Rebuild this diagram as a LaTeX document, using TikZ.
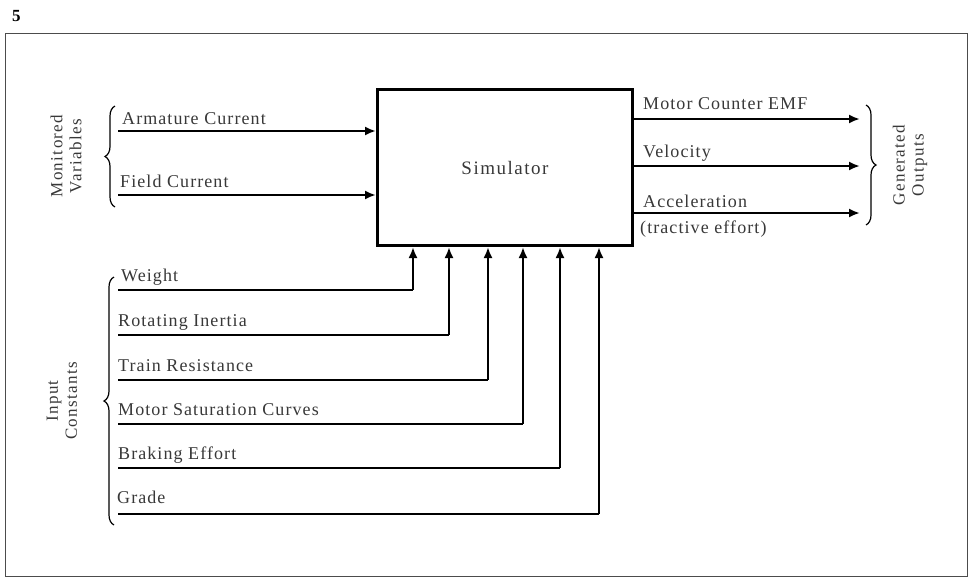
\documentclass[tikz,border=0pt]{standalone}
\usepackage{fontspec}
\setmainfont{Liberation Serif}
\usetikzlibrary{arrows.meta,decorations.pathreplacing}
\definecolor{txt}{HTML}{383838}
\newcommand{\lblfont}{\fontsize{18}{20}\selectfont\addfontfeature{LetterSpace=6}}
\tikzset{
  lbl/.style={anchor=base west, inner sep=0pt, text=txt, font=\lblfont},
  rlbl/.style={rotate=90, align=center, inner sep=0pt, text=txt, font=\fontsize{17}{19}\selectfont\addfontfeature{LetterSpace=8}},
  arr/.style={line width=2.2pt, -{Latex[length=11pt,width=9pt]}},
  conn/.style={line width=2.2pt},
  brc/.style={line width=1.2pt, decorate, decoration={brace, amplitude=10pt}},
  frame/.style={line width=1pt, draw=black!70}
}
\begin{document}
\begin{tikzpicture}[x=1pt,y=-1pt]
\useasboundingbox (0,0) rectangle (971,579);
\node[anchor=base west, inner sep=0pt, font=\bfseries\fontsize{17}{19}\selectfont] (num) at (12,21) {5};
\draw[frame] (5,33) rectangle (967,576);
\node[draw, line width=3pt, minimum width=255pt, minimum height=156pt, anchor=north west, text=txt, font=\fontsize{19}{21}\selectfont\addfontfeature{LetterSpace=8}] (sim) at (376,88) {Simulator};
% monitored
\node[lbl] (ac) at (122,124) {Armature Current};
\node[lbl] (fc) at (120,187) {Field Current};
\coordinate (acs) at (118,131);
\coordinate (fcs) at (118,195);
\draw[arr] (acs) -- (acs -| sim.west);
\draw[arr] (fcs) -- (fcs -| sim.west);
\draw[brc] (115,207) -- (115,106);
\node[rlbl] (mv) at (66,156) {Monitored\\Variables};
% outputs
\coordinate (o1) at (860,119);
\coordinate (o2) at (860,166);
\coordinate (o3) at (860,213);
\draw[arr] (o1 -| sim.east) -- (o1);
\draw[arr] (o2 -| sim.east) -- (o2);
\draw[arr] (o3 -| sim.east) -- (o3);
\node[lbl] (emf) at (643,109) {Motor Counter EMF};
\node[lbl] (vel) at (643,157) {Velocity};
\node[lbl] (acc) at (643,207) {Acceleration};
\node[lbl] (tra) at (640,233) {(tractive effort)};
\draw[brc] (866,105) -- (866,225);
\node[rlbl] (go) at (910,165) {Generated\\Outputs};
% input constants
\node[lbl] (w) at (121,281) {Weight};
\node[lbl] (ri) at (118,326) {Rotating Inertia};
\node[lbl] (tr) at (118,371) {Train Resistance};
\node[lbl] (ms) at (118,415) {Motor Saturation Curves};
\node[lbl] (be) at (118,459) {Braking Effort};
\node[lbl] (gr) at (117,503) {Grade};
\coordinate (s1) at (118,290); \coordinate (c1) at (413,290);
\coordinate (s2) at (118,335); \coordinate (c2) at (449,335);
\coordinate (s3) at (118,380); \coordinate (c3) at (488,380);
\coordinate (s4) at (118,424); \coordinate (c4) at (523,424);
\coordinate (s5) at (118,468); \coordinate (c5) at (560,468);
\coordinate (s6) at (118,514); \coordinate (c6) at (599,514);
\foreach \i in {1,...,6}{
  \draw[conn] (s\i) -- (c\i);
  \draw[arr] (c\i) -- (c\i |- sim.south);
}
\draw[brc] (114,525) -- (114,277);
\node[rlbl] (ic) at (62,401) {Input\\Constants};
\end{tikzpicture}
\end{document}
